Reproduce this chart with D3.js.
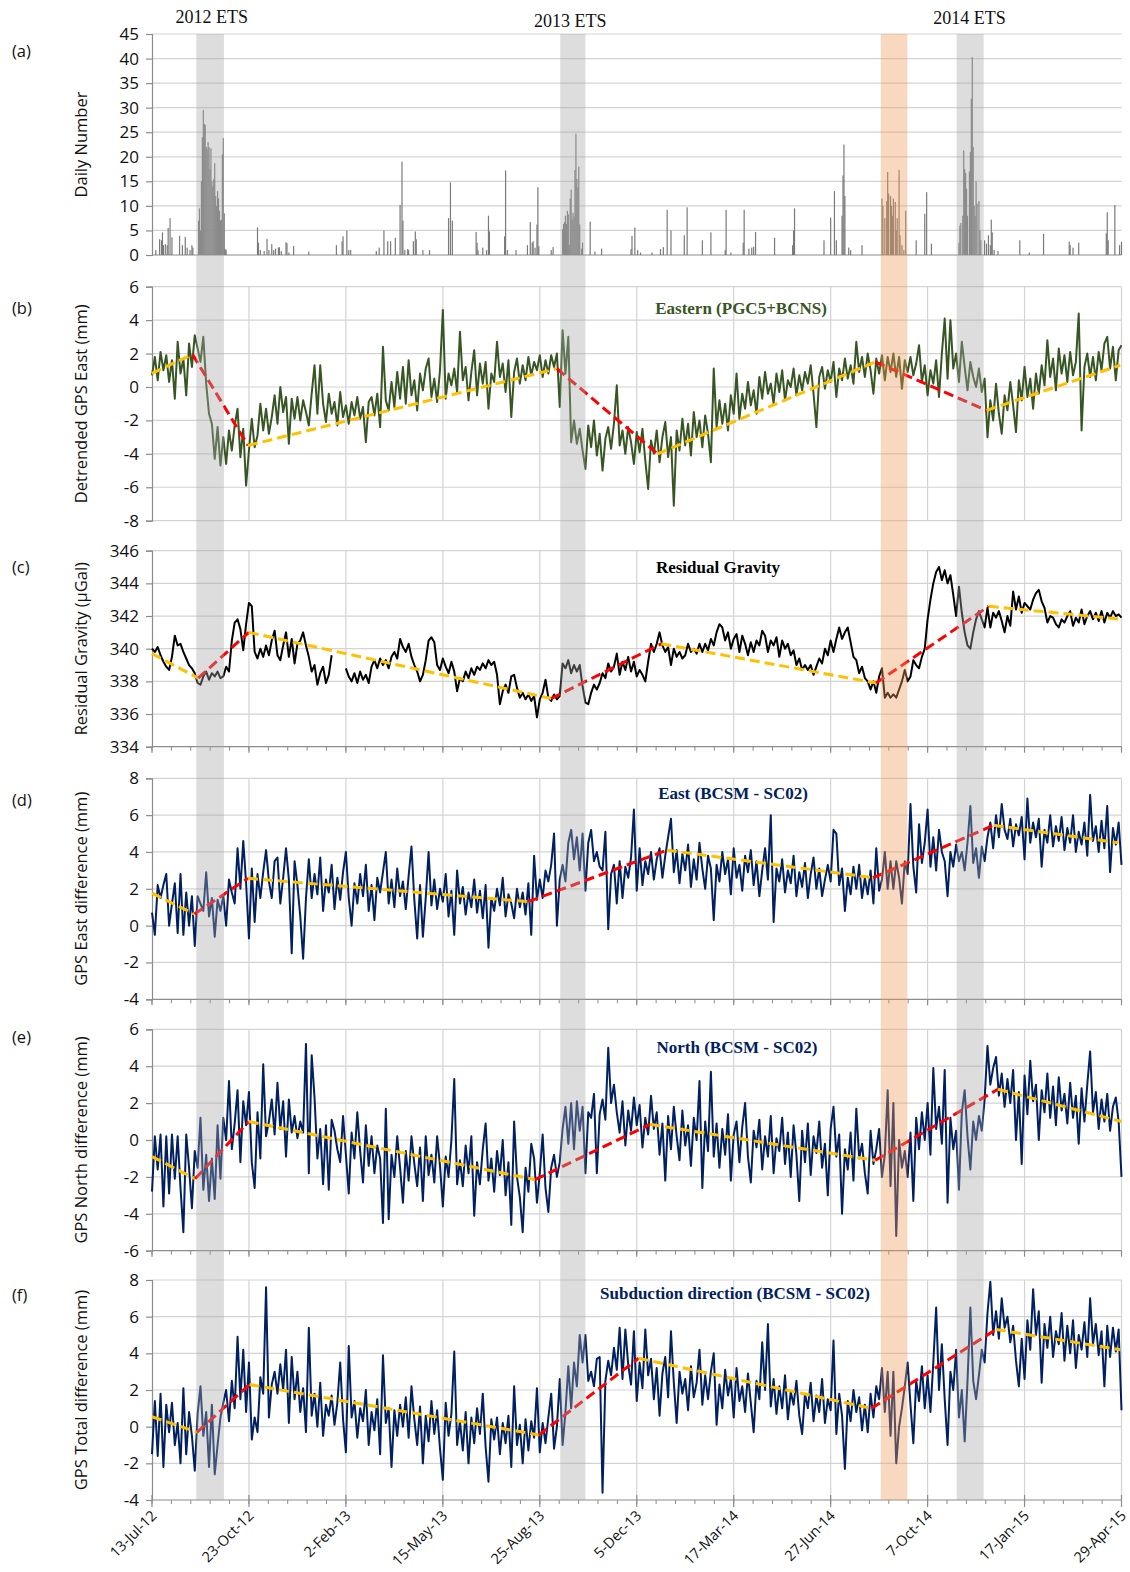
<!DOCTYPE html>
<html><head><meta charset="utf-8">
<script src="https://cdn.jsdelivr.net/npm/d3@7"></script>
<style>body{margin:0;background:#fff}svg{display:block}</style>
</head><body>
<svg id="chart" width="1130" height="1572"></svg>
<script>
// ---------- DATA ----------
const tickLabels = ["13-Jul-12","23-Oct-12","2-Feb-13","15-May-13","25-Aug-13","5-Dec-13","17-Mar-14","27-Jun-14","7-Oct-14","17-Jan-15","29-Apr-15"];
const tickDays = [0,102,204,306,408,510,612,714,816,918,1020];
const bandStart = [46.6, 429.5, 766.7, 846.5];
const bandEnd   = [75.7, 456.0, 794.7, 875.0];
const bandKind  = ["ets","ets","other","ets"];
const etsLabels = ["2012 ETS","2013 ETS","2014 ETS"];
const etsLabelDay = [63, 440, 860];
const STEP = 3; // days between samples of the series below

// (a) daily tremor number  [day, count]
const tremorDaily = [[4,1],[8,3.2],[10,3],[11,4.6],[12,2],[14,2.2],[16,2],[17,5.5],[19,7.5],[21,3.6],[29,3.9],[32,2],[35,3.7],[37,1.5],[40,1],[42,2],[43,1.5],
[49,7],[50,9.5],[51,5],[52,15],[53,24],[54,29.5],[55,26.7],[56,26.5],[57,22],[58,21.5],[59,23],[60,22],[61,17.5],[62,21.7],[63,15],[64,14],[65,15.5],[66,18.7],[67,12],[68,10],[69,13],[70,11.5],[71,9],[72,7],[73,7.2],[74,20.5],[75,23.8],[76,8.5],[77,1.2],[78,1],
[111,5.6],[112,2.5],[114,1],[118,0.8],[121,3.3],[123,1],[126,2.2],[128,1],[130,1.3],[133,1.5],[134,1.6],[136,0.8],[141,2.6],[142,2.4],[144,0.5],[149,1.8],[165,0.7],[194,2],[200,2.8],[201,3.8],[205,5],[207,1],[209,1],[236,0.8],[239,1.5],[244,5],[248,2.8],[251,2.8],[256,3.5],[261,10.2],[263,19],[264,7],[266,1],[269,1.2],[270,1],[275,2.8],[277,4.8],[278,3.2],[285,1],[292,1],[312,7.5],[314,14.8],[316,7],[341,4.7],[342,2.5],[343,1],[348,1.5],[352,1],[354,8],[355,4.8],[371,3.8],[372,17.2],[374,1],[383,1],[395,2],[398,6.7],[400,2.5],[401,2.8],[403,1.5],[405,6.2],[406,13.8],[407,1.8],[420,1],[422,1.6],
[432,5.3],[433,6.3],[434,6.7],[435,8],[436,6.3],[437,9],[438,8.3],[439,2.1],[440,11.5],[441,13.3],[442,7.2],[443,8.6],[444,7.8],[445,17.3],[446,24.7],[447,15.5],[448,13.8],[449,18],[450,6.2],[452,1.3],[453,2.5],
[461,6.8],[466,0.7],[473,1.3],[504,1.2],[505,3.9],[508,5.6],[511,1],[514,0.5],[526,0.5],[535,1.2],[538,1.6],[542,9.2],[546,5],[560,4],[563,9.7],[579,3],[588,4.6],[603,1],[604,9.2],[609,0.5],[622,2.5],[623,9.2],[628,1.3],[631,1.5],[633,1.7],[635,4.7],[655,3.5],[674,2],[675,5],[676,9.5],[707,3],[714,7.6],[718,13],[720,3],[726,8],[727,16.2],[728,22.5],[729,12],[733,1.5],[735,1],[747,2],
[768,11.5],[769,10],[771,7.5],[773,11],[774,16.9],[775,12.5],[777,12],[778,10],[779,8],[780,11.5],[782,10.8],[783,5],[784,7.5],[786,17.3],[787,4],[789,2],[791,1],[793,9],
[804,3],[813,8.4],[815,12.8],[820,2.3],
[849,2.5],[850,6],[851,6.5],[853,8],[854,21.3],[855,17.5],[856,16.7],[857,13.5],[858,8],[860,17],[861,21],[862,31.8],[863,40.3],[864,22],[865,10],[866,8],[867,15],[868,10.5],[870,11],[871,5],[872,3],
[876,3],[878,2.3],[880,4],[882,2],[883,7.2],[884,4.6],[886,1],[890,0.8],[913,3],[923,0.5],[938,4.3],[965,2.7],[966,2],[969,1.5],[975,2.5],[1004,4.4],[1005,8.7],[1006,3],[1013,10.2],[1018,2],[1020,2.7]];

// (b) detrended GPS East (mm), every 3 days
const gpsEastDetrended = [
0.7,1.8,0.4,2.1,1.0,1.9,0.3,1.6,-0.7,2.7,
0.8,1.7,-0.5,2.6,1.2,3.1,2.3,1.5,3.0,0.2,
-1.6,-2.2,-4.3,-2.4,-4.7,-3.0,-4.6,-2.6,-3.8,-2.3,
-1.3,-4.2,-2.5,-5.9,-3.8,-1.9,-3.6,-2.9,-1.0,-2.6,
-1.3,-2.8,-1.8,-0.5,-2.2,0.0,-1.5,-0.6,-3.4,-0.7,
-1.9,-0.6,-2.0,-0.8,-1.5,-2.3,-0.4,1.3,-1.6,1.3,
-1.0,-2.1,-0.4,-1.6,-0.9,-2.3,-0.3,-1.8,-1.1,-2.2,
-0.9,-1.7,-0.6,-1.9,-1.2,-3.3,-0.9,-0.6,-1.7,-0.4,
-2.4,2.4,-0.8,-1.4,0.3,-1.2,0.9,-0.7,1.2,-1.0,
1.6,-0.5,0.4,-1.4,0.8,-0.2,1.1,1.7,-0.6,0.5,
-0.9,1.0,4.6,-0.7,0.8,0.1,1.1,-0.3,3.3,0.4,
1.2,-0.8,0.9,2.2,-0.5,1.4,0.2,1.5,-1.3,0.8,
0.3,2.7,0.6,1.4,-0.3,1.6,-1.8,0.9,1.7,0.2,
1.3,0.4,1.8,0.7,1.5,1.0,1.9,0.6,1.6,0.8,
1.9,1.2,2.0,-1.2,3.4,0.8,3.0,-3.3,-2.0,-3.4,
-2.5,-3.8,-4.9,-2.3,-3.6,-2.0,-4.1,-2.8,-5.0,-3.1,
-2.4,-3.7,-2.2,0.1,-3.5,-2.6,-4.0,-2.4,-3.3,-4.6,
-2.7,-3.9,-2.5,-4.4,-6.1,-3.2,-4.0,-2.6,-4.5,-3.0,
-2.1,-4.2,-3.0,-7.1,-2.6,-3.8,-1.9,-3.5,-2.2,-4.1,
-1.5,-3.0,-2.0,-3.6,-1.7,-2.8,-4.5,1.1,-2.4,-0.8,
-2.2,-1.0,-2.6,-0.5,-1.6,0.8,-1.9,-0.4,-1.3,0.3,
-1.1,-0.2,-1.6,0.6,-0.7,0.9,-0.4,0.2,-1.0,0.8,
-0.3,1.0,-0.8,0.4,0.0,1.1,-0.5,0.7,-0.2,0.9,
0.2,1.3,-0.4,-2.4,0.6,1.2,-0.1,1.0,0.3,1.5,
-0.6,1.1,0.4,1.7,0.5,1.3,0.2,2.7,0.9,1.8,
0.6,2.0,1.0,-0.4,1.7,0.8,1.9,0.4,1.8,0.9,
2.0,0.6,1.8,-0.1,1.6,0.9,1.8,0.7,1.4,2.5,
0.3,1.3,-0.5,1.0,0.2,1.6,-0.6,2.0,4.1,0.5,
4.0,1.1,2.0,0.3,2.7,1.2,-0.2,1.5,0.6,0.0,
1.1,-0.3,0.5,-3.0,-0.8,-2.0,0.2,-1.6,-2.8,-0.5,
-1.4,0.3,-1.1,-2.7,0.4,-0.8,1.2,-0.6,0.5,-1.3,
0.8,-0.4,1.3,0.1,2.8,0.6,1.7,-0.2,2.3,0.8,
1.9,0.3,2.1,0.7,1.5,4.4,-2.6,1.2,2.0,0.6,
1.8,0.4,2.1,1.0,2.6,3.0,1.1,2.4,0.4,2.2,2.5];

// (c) residual gravity (µGal), every 3 days (null = no data)
const residualGravity = [
340.0,339.8,340.1,339.6,339.2,338.9,338.7,339.5,340.8,340.2,
340.3,339.8,339.4,339.0,338.8,338.5,337.9,337.8,338.3,338.6,
338.1,338.5,338.3,338.6,338.2,338.3,338.9,338.6,340.5,341.6,
341.8,341.2,339.9,341.5,342.8,342.6,339.8,339.4,340.0,339.5,
340.2,339.6,340.5,341.1,339.6,339.3,340.2,341.0,339.5,340.6,
339.1,340.3,340.5,341.0,340.2,339.5,338.6,339.0,337.8,338.5,
338.9,337.9,338.4,339.6,null,null,null,null,338.8,338.3,
338.0,338.5,337.9,338.6,338.1,338.4,337.9,338.9,339.3,338.8,
339.4,339.0,339.3,338.8,339.5,339.8,339.4,340.6,340.1,339.8,
340.3,339.5,339.0,338.6,338.0,338.4,339.3,340.5,340.7,340.4,
339.0,338.7,339.4,338.9,338.5,339.2,338.6,337.4,338.2,338.0,
338.6,338.2,338.8,338.4,338.9,338.7,339.1,338.8,339.3,339.0,
339.2,338.4,336.6,337.4,337.8,337.3,338.3,338.4,337.6,337.0,
337.3,336.9,337.2,336.8,337.1,335.8,336.9,337.3,338.1,337.0,
336.8,337.2,336.9,337.1,339.1,338.8,339.3,338.5,339.0,338.6,
339.0,337.7,336.7,336.6,337.3,337.8,337.5,337.9,338.5,338.2,
339.1,338.6,338.9,339.7,338.4,339.2,338.7,339.5,338.6,339.2,
338.3,338.7,338.4,338.0,339.2,340.3,339.8,340.3,341.0,340.2,
339.8,340.1,339.0,340.0,339.5,339.8,339.4,339.6,340.3,339.8,
340.0,339.7,340.3,339.8,340.3,339.9,340.6,340.2,341.0,341.5,
341.3,340.5,341.0,340.0,340.6,340.9,339.8,340.8,340.3,339.6,
340.4,339.8,340.5,340.2,341.1,340.8,339.8,340.5,340.2,340.7,
339.5,340.5,340.0,340.3,339.6,339.9,339.0,339.4,338.7,339.0,
338.7,339.0,338.4,338.9,339.4,339.1,340.0,339.6,340.5,339.8,
340.6,341.3,340.6,341.0,341.3,340.4,339.5,339.3,338.5,338.9,
338.2,338.0,337.5,338.0,337.3,338.3,338.8,337.0,337.3,337.0,
337.2,337.0,337.5,338.0,338.7,338.0,338.3,339.3,339.0,338.8,
339.5,340.0,341.8,343.0,344.0,344.7,345.0,344.2,344.8,344.0,
344.5,343.3,342.0,343.8,342.2,341.0,340.2,340.0,341.0,341.8,
342.3,341.8,341.3,342.5,341.3,342.2,341.9,342.3,341.7,341.0,
342.0,341.4,343.5,342.4,343.2,342.2,342.8,342.6,342.4,343.0,
343.4,343.6,342.9,342.5,341.6,342.0,341.9,341.5,341.3,341.8,
341.6,342.0,342.3,341.4,341.9,341.6,342.4,341.5,342.0,342.3,
341.8,342.2,341.7,342.3,341.6,342.2,341.9,342.3,342.0,342.1,341.9];

// (d) GPS East difference BCSM - SC02 (mm), every 3 days
const gpsEastDiff = [
0.7,-0.5,2.2,1.5,2.2,2.8,0.0,1.2,2.3,-0.4,
2.8,-0.5,1.8,0.0,1.6,-1.1,1.6,1.2,0.8,2.9,
0.5,1.5,-0.6,1.4,0.8,1.6,0.0,2.5,1.8,1.2,
4.2,2.0,4.6,2.3,-0.7,3.1,0.2,2.8,1.5,2.9,
4.1,2.4,1.5,3.5,3.7,1.2,2.6,4.2,2.5,-1.5,
3.5,2.2,0.5,-1.8,1.5,3.6,1.5,2.8,1.7,3.7,
0.8,2.5,1.8,3.3,0.9,2.6,1.4,2.9,4.0,1.5,
0.0,2.3,1.2,2.8,1.6,3.3,0.8,2.2,0.3,2.6,
1.8,2.9,4.0,1.2,2.5,1.0,3.1,1.6,2.4,0.9,
2.7,4.3,1.4,-0.7,2.2,-0.6,1.5,4.0,1.1,2.5,
0.9,2.0,1.3,2.8,0.5,1.9,-0.5,3.0,1.2,2.1,
0.6,1.8,1.0,2.5,0.7,1.9,0.4,2.2,-1.2,1.5,
0.8,2.0,1.1,2.6,0.5,1.7,1.2,0.4,2.0,1.0,
1.8,0.6,2.3,-0.5,3.8,1.4,2.5,1.5,3.0,2.4,
3.3,5.0,0.0,2.5,3.3,2.4,4.5,5.2,3.6,4.8,
3.0,5.0,1.9,4.5,5.2,3.5,4.0,3.2,3.0,5.1,
-0.2,2.8,3.3,1.2,3.5,1.5,3.2,2.6,3.7,6.3,
1.9,4.2,2.2,3.5,2.8,4.0,2.5,3.6,4.2,2.6,
3.8,4.8,5.8,2.9,4.1,2.3,3.9,3.0,4.4,2.1,
3.6,2.5,4.5,3.1,2.0,3.8,3.1,0.3,3.3,2.4,
4.0,2.8,3.6,1.7,4.2,2.6,3.3,1.9,3.8,2.9,
4.1,2.2,3.5,1.6,3.0,4.2,2.5,6.0,0.2,3.1,
2.4,3.6,1.8,3.0,2.3,3.8,1.6,2.9,2.1,3.4,
1.5,2.8,3.7,2.0,3.1,1.6,2.5,3.3,2.4,5.2,
5.0,2.2,3.1,0.8,2.6,1.7,3.2,2.0,3.3,1.5,
2.6,1.7,3.0,1.2,4.2,1.9,2.5,4.0,2.0,3.5,
2.0,3.5,2.6,1.2,3.5,2.8,6.6,3.2,1.8,5.5,
3.4,4.5,6.3,3.2,4.8,3.0,5.2,4.0,3.5,1.6,
4.0,3.2,4.4,3.5,4.0,3.0,4.5,6.5,3.4,4.2,
2.6,4.3,3.5,4.8,5.6,4.2,6.0,4.8,6.6,5.2,
4.7,5.8,4.3,5.5,4.9,5.9,3.6,6.9,4.5,5.6,
4.8,5.8,3.2,5.2,4.5,6.0,4.3,5.4,4.6,5.9,
4.1,5.3,4.5,6.0,4.0,5.1,4.4,5.6,3.8,7.1,
4.6,5.4,4.0,5.7,4.2,6.5,2.9,5.3,4.4,5.6,3.3];

// (e) GPS North difference BCSM - SC02 (mm), every 3 days
const gpsNorthDiff = [
-2.8,0.2,-1.6,0.3,-3.6,0.2,-2.9,0.3,-2.1,0.2,
-2.6,-5.0,0.3,-1.5,-3.7,-0.6,-1.5,1.2,-2.7,-0.8,
-3.3,-1.0,-3.2,0.8,-2.1,1.2,0.0,3.2,-0.5,0.9,
2.7,-1.2,2.1,0.8,2.6,-1.2,-2.6,1.5,-1.0,4.1,
0.2,1.0,2.2,0.3,3.1,0.6,2.1,-0.9,2.2,0.4,
1.3,0.1,1.0,0.4,5.2,-1.8,4.6,2.3,-1.0,0.6,
-2.4,0.8,-2.7,1.1,0.5,-0.5,-1.2,1.3,-0.8,-2.9,
0.4,-1.0,1.5,-0.6,-2.3,0.8,-1.4,0.2,-1.8,-0.3,
-1.0,-4.5,1.7,-4.3,-0.8,-2.0,0.2,-1.5,-3.4,-0.6,
-2.2,0.2,-1.3,-2.5,-0.4,-3.3,0.2,-1.9,-0.8,-2.3,
0.2,-1.4,-3.6,-0.9,-2.0,0.0,3.3,-2.4,-1.1,-2.5,
-0.3,-1.8,0.2,-4.1,-1.2,-2.4,-0.5,0.9,-2.2,-1.0,
-2.8,-0.6,-1.9,0.0,-3.0,-1.2,-4.6,1.0,-2.0,-3.1,
-5.0,-1.5,-2.8,-0.2,-1.0,-3.4,-1.8,0.3,-2.6,-3.9,
-1.5,-0.8,-2.0,-1.2,0.6,1.8,-0.2,2.0,-0.5,2.1,
0.5,1.8,-1.8,1.5,1.2,2.5,-1.8,1.4,2.2,1.1,
5.0,2.0,3.0,1.5,0.4,2.1,-0.3,1.6,0.5,2.3,
0.8,1.9,-0.4,1.2,0.3,2.4,0.6,1.5,-0.8,0.9,
-2.2,1.3,-0.5,1.8,0.2,-1.1,1.6,-0.3,0.8,-1.4,
1.2,0.0,3.2,-2.6,1.0,-0.6,3.7,-0.9,0.9,-1.5,
0.6,-0.8,1.4,-2.2,0.3,1.0,-1.2,0.7,2.0,-0.9,
-2.3,0.5,-0.4,1.1,-1.6,0.2,-0.9,1.3,-1.8,0.1,
-0.6,1.2,-1.3,0.4,-2.0,0.8,-0.8,-3.3,0.5,-1.2,
0.9,-1.9,0.2,-0.7,1.0,-1.5,-0.2,-3.0,0.6,1.8,
-0.9,0.3,-4.0,-0.5,-1.6,0.4,-2.2,1.7,-1.0,-0.2,
-1.8,-2.9,0.5,-1.3,-0.5,0.6,-2.0,-0.8,2.7,-2.5,
2.0,-5.2,0.0,-1.5,-0.6,-2.0,0.4,-3.3,1.2,-0.5,
1.5,0.0,2.0,-0.8,3.9,0.6,1.8,-0.2,3.8,-3.4,
1.2,-0.5,0.5,-2.7,1.5,2.7,0.2,-1.6,1.0,0.0,
1.3,0.5,2.2,5.1,3.0,3.9,4.5,2.4,3.6,1.8,
3.3,2.0,3.8,0.0,2.6,-1.3,3.5,1.4,4.3,2.1,
3.0,0.0,2.7,1.5,3.6,1.2,2.9,0.8,3.4,1.6,
2.5,0.9,3.1,1.2,2.4,-0.2,2.8,1.0,3.0,4.8,
1.5,2.6,0.6,2.2,1.0,2.5,0.5,1.8,2.3,1.0,-2.0];

// (f) GPS total (subduction direction) difference BCSM - SC02 (mm), every 3 days
const gpsTotalDiff = [
-1.5,1.4,-1.6,1.8,-2.2,1.2,-0.3,1.3,-1.0,0.2,
-2.0,2.1,-1.5,0.8,-0.5,-2.4,0.7,2.2,-0.5,0.8,
-2.2,1.2,-2.6,-1.0,0.5,1.3,2.0,0.3,2.5,1.0,
4.9,1.5,4.2,0.8,3.5,-0.7,0.5,-0.3,2.7,1.8,
7.6,0.5,2.3,3.0,1.8,3.4,2.0,4.2,0.2,3.8,
1.5,3.0,0.8,2.1,-0.3,5.4,0.6,1.8,0.0,2.4,
-0.5,1.2,0.6,1.7,0.1,1.3,3.5,0.4,-1.4,4.4,
0.5,1.4,-0.6,1.0,0.3,2.0,-1.0,0.8,-0.2,1.5,
-1.5,3.9,0.2,1.0,-2.2,0.9,-0.5,1.2,0.0,1.6,
-0.6,2.2,0.4,-1.0,1.1,-2.0,0.6,-0.8,1.4,-0.4,
0.9,-1.2,-2.9,1.3,-0.5,0.7,4.1,-1.0,0.3,-1.3,
0.8,-2.0,0.5,-0.9,1.0,-0.4,1.8,-1.1,-3.0,0.4,
-0.7,0.5,-1.5,0.2,-0.9,0.6,-2.2,2.2,-1.0,0.1,
-2.0,0.4,-1.3,0.3,-0.6,2.1,-1.4,0.2,-0.9,0.5,
1.8,-1.2,0.0,2.6,-1.0,0.8,3.3,1.0,3.5,2.2,
5.0,3.5,5.0,2.5,3.0,2.2,3.7,3.8,-3.6,2.5,
3.6,2.8,4.3,3.1,5.4,2.6,5.3,3.4,2.3,5.2,
1.4,3.5,2.1,5.3,2.8,3.7,1.5,3.2,0.6,2.9,
3.8,1.6,5.2,2.4,0.2,3.0,1.8,2.6,0.9,3.3,
1.6,2.4,4.2,1.2,2.8,1.5,3.0,4.0,0.1,2.3,
1.0,3.1,1.7,2.6,0.5,3.2,1.4,2.2,0.8,2.9,
1.3,-0.3,2.5,1.5,4.6,2.0,5.6,1.1,2.6,0.7,
2.2,1.0,2.8,0.4,1.9,1.2,2.5,0.6,-0.4,1.8,
1.0,2.4,0.3,1.7,0.8,2.6,0.2,1.5,0.9,4.7,
-0.4,1.8,0.6,-2.3,1.4,0.3,2.0,0.8,1.6,-0.2,
1.2,-0.3,1.8,0.5,2.2,1.5,3.2,0.8,3.0,-0.5,
3.0,-2.0,0.0,1.0,2.2,3.5,1.2,-0.9,2.5,1.4,
3.3,1.0,2.8,0.8,3.5,6.5,2.0,4.5,1.5,-1.0,
3.0,2.0,4.2,0.5,2.0,-0.8,2.5,6.5,2.5,1.5,
2.8,4.2,3.5,6.2,7.9,5.0,6.3,4.8,7.0,5.4,
6.0,4.6,5.5,3.6,2.2,4.8,2.6,5.8,4.2,7.5,
5.0,6.3,2.4,5.6,4.3,6.0,3.8,5.2,4.5,6.2,
3.6,5.5,4.0,5.8,3.2,5.0,4.2,5.7,3.8,7.0,
4.5,5.6,3.9,5.2,2.2,5.5,3.8,5.4,4.1,5.3,0.9];

// piecewise trend lines (yellow = inter-event, red = event)
const trendEastDays = [0,42.6,101,426,532,761,878,1018.6];
const trendEastVals = [0.82,1.95,-3.5,1.1,-4.0,1.5,-1.4,1.3];
const trendGravDays = [0,48.6,101.8,420,535.8,761.7,880.4,1020];
const trendGravVals = [339.7,338.2,341.0,336.95,340.3,337.9,342.6,341.8];
const trendEDiffDays = [0,44.6,101,396,541.6,758.5,885.5,1016.7];
const trendEDiffVals = [1.76,0.63,2.57,1.3,4.1,2.6,5.45,4.5];
const trendNDiffDays = [0,45.4,101.8,403,524,761,890,1020];
const trendNDiffVals = [-0.9,-2.1,1.0,-2.15,0.85,-1.1,2.75,1.0];
const trendTDiffDays = [0,47.5,102.6,407,512,757,888,1018.6];
const trendTDiffVals = [0.54,-0.3,2.3,-0.45,3.73,1.0,5.3,4.2];

// ---------- DRAWING ----------
const svg = d3.select('#chart');
const SANS = "'Open Sans', 'Noto Sans', sans-serif";
const SERIF = "'Liberation Serif', 'Times New Roman', serif";
const X0 = 152, X1 = 1121.5;
const x = d3.scaleLinear().domain([0, 1020]).range([X0, X1]);
const GRID = '#d3d3d3', AXIS = '#8c8c8c';
const minorDays = d3.range(0, 1020.01, 20.4);

const panels = [
 {id:'a', top:34, bottom:255, domain:[0,45], step:5, ylabel:'Daily Number', letterY:57},
 {id:'b', top:286.7, bottom:520.7, domain:[-8,6], step:2, values:gpsEastDetrended, color:'#375623',
  title:'Eastern (PGC5+BCNS)', titleColor:'#375623', titleX:741, titleY:314,
  ylabel:'Detrended GPS East (mm)', tDays:trendEastDays, tVals:trendEastVals, letterY:314},
 {id:'c', top:550.7, bottom:746.7, domain:[334,346], step:2, values:residualGravity, color:'#000000',
  title:'Residual Gravity', titleColor:'#000000', titleX:718, titleY:573,
  ylabel:'Residual Gravity (µGal)', tDays:trendGravDays, tVals:trendGravVals, letterY:573, xaxis:true},
 {id:'d', top:778.3, bottom:999.3, domain:[-4,8], step:2, values:gpsEastDiff, color:'#002060',
  title:'East (BCSM - SC02)', titleColor:'#002060', titleX:733, titleY:799,
  ylabel:'GPS East difference (mm)', tDays:trendEDiffDays, tVals:trendEDiffVals, letterY:806, xaxis:true},
 {id:'e', top:1029.3, bottom:1250.7, domain:[-6,6], step:2, values:gpsNorthDiff, color:'#002060',
  title:'North (BCSM - SC02)', titleColor:'#002060', titleX:737, titleY:1053,
  ylabel:'GPS North difference (mm)', tDays:trendNDiffDays, tVals:trendNDiffVals, letterY:1043, xaxis:true},
 {id:'f', top:1280, bottom:1500, domain:[-4,8], step:2, values:gpsTotalDiff, color:'#002060',
  title:'Subduction direction (BCSM - SC02)', titleColor:'#002060', titleX:735, titleY:1299,
  ylabel:'GPS Total difference (mm)', tDays:trendTDiffDays, tVals:trendTDiffVals, letterY:1301, xaxis:true, labels:true}
];

panels.forEach(p => {
  const y = d3.scaleLinear().domain(p.domain).range([p.bottom, p.top]);
  const g = svg.append('g').attr('class', 'panel-' + p.id);
  const yTicks = d3.range(p.domain[0], p.domain[1] + 0.001, p.step);

  // horizontal gridlines
  g.append('g').selectAll('line').data(yTicks.slice(1)).join('line')
    .attr('x1', X0).attr('x2', X1).attr('y1', d => y(d)).attr('y2', d => y(d))
    .attr('stroke', GRID).attr('stroke-width', 1.2);
  // vertical gridlines (not in panel a)
  if (p.id !== 'a') {
    g.append('g').selectAll('line').data(tickDays.slice(1)).join('line')
      .attr('x1', d => x(d)).attr('x2', d => x(d)).attr('y1', p.top).attr('y2', p.bottom)
      .attr('stroke', GRID).attr('stroke-width', 1.2);
  }
  // bottom line
  g.append('line').attr('x1', X0).attr('x2', X1).attr('y1', p.bottom).attr('y2', p.bottom)
    .attr('stroke', (p.xaxis || p.id === 'a') ? AXIS : GRID).attr('stroke-width', 1.2);
  if (p.xaxis) {
    g.append('g').selectAll('line').data(minorDays).join('line')
      .attr('x1', d => x(d)).attr('x2', d => x(d)).attr('y1', p.bottom).attr('y2', p.bottom + 4)
      .attr('stroke', AXIS).attr('stroke-width', 1);
    g.append('g').selectAll('line').data(tickDays).join('line')
      .attr('x1', d => x(d)).attr('x2', d => x(d)).attr('y1', p.bottom - (p.labels ? 5 : 0)).attr('y2', p.bottom + (p.labels ? 7 : 6))
      .attr('stroke', AXIS).attr('stroke-width', 1.2);
  }
  if (p.labels) {
    g.append('g').selectAll('text').data(tickDays).join('text')
      .attr('transform', d => `translate(${x(d) + 2},${p.bottom + 13}) rotate(-45)`)
      .attr('text-anchor', 'end').attr('dy', '0.35em')
      .attr('font-family', SANS).attr('font-size', 14.5).attr('fill', '#111')
      .text((d, i) => tickLabels[i]);
  }

  // y axis
  const ax = g.append('g').attr('transform', `translate(${X0},0)`)
    .call(d3.axisLeft(y).tickValues(yTicks).tickSize(6).tickPadding(7).tickFormat(d => String(d)));
  ax.select('.domain').attr('stroke', AXIS).attr('stroke-width', 1.2);
  ax.selectAll('.tick line').attr('stroke', AXIS).attr('stroke-width', 1.2);
  ax.selectAll('.tick text').attr('font-family', SANS).attr('font-size', 17).attr('fill', '#111');

  // y label
  g.append('text').attr('transform', `translate(81,${(p.top + p.bottom) / 2}) rotate(-90)`)
    .attr('text-anchor', 'middle').attr('dy', '0.35em')
    .attr('font-family', SANS).attr('font-size', 16.5).attr('fill', '#111').text(p.ylabel);
  // panel letter
  g.append('text').attr('x', 12).attr('y', p.letterY)
    .attr('font-family', SANS).attr('font-size', 16.5).attr('fill', '#111').text('(' + p.id + ')');

  if (p.id === 'a') {
    g.append('g').selectAll('rect').data(tremorDaily).join('rect')
      .attr('x', d => x(d[0]) - 0.6).attr('width', 1.2)
      .attr('y', d => y(d[1])).attr('height', d => y(0) - y(d[1]))
      .attr('fill', '#7a7a7a');
    return;
  }

  // inner title
  g.append('text').attr('x', p.titleX).attr('y', p.titleY).attr('text-anchor', 'middle')
    .attr('font-family', SERIF).attr('font-weight', 'bold').attr('font-size', 17)
    .attr('fill', p.titleColor).text(p.title);

  // data line
  const line = d3.line().defined(v => v !== null).x((v, i) => x(i * STEP)).y(v => y(v));
  g.append('path').datum(p.values).attr('d', line)
    .attr('fill', 'none').attr('stroke', p.color).attr('stroke-width', 2).attr('stroke-linejoin', 'round');

  // trend segments
  const segs = d3.range(p.tDays.length - 1).map(i => ({i, a:[p.tDays[i], p.tVals[i]], b:[p.tDays[i+1], p.tVals[i+1]]}));
  g.append('g').selectAll('line').data(segs).join('line')
    .attr('x1', s => x(s.a[0])).attr('y1', s => y(s.a[1]))
    .attr('x2', s => x(s.b[0])).attr('y2', s => y(s.b[1]))
    .attr('stroke', s => s.i % 2 === 0 ? '#ffc000' : '#ff0000')
    .attr('stroke-width', 3).attr('stroke-dasharray', '10,5');
});

// ETS / event bands over everything
svg.append('g').selectAll('rect').data(bandStart).join('rect')
  .attr('x', (d, i) => x(d)).attr('width', (d, i) => x(bandEnd[i]) - x(d))
  .attr('y', 34).attr('height', 1500 - 34)
  .attr('fill', (d, i) => bandKind[i] === 'ets' ? '#a6a6a6' : '#f0985a')
  .attr('fill-opacity', 0.38);

// ETS labels
svg.append('g').selectAll('text').data(etsLabels).join('text')
  .attr('x', (d, i) => x(etsLabelDay[i])).attr('y', (d, i) => [23, 27, 24][i])
  .attr('text-anchor', 'middle').attr('font-family', SERIF).attr('font-size', 18).attr('fill', '#111')
  .text(d => d);
</script>
</body></html>
